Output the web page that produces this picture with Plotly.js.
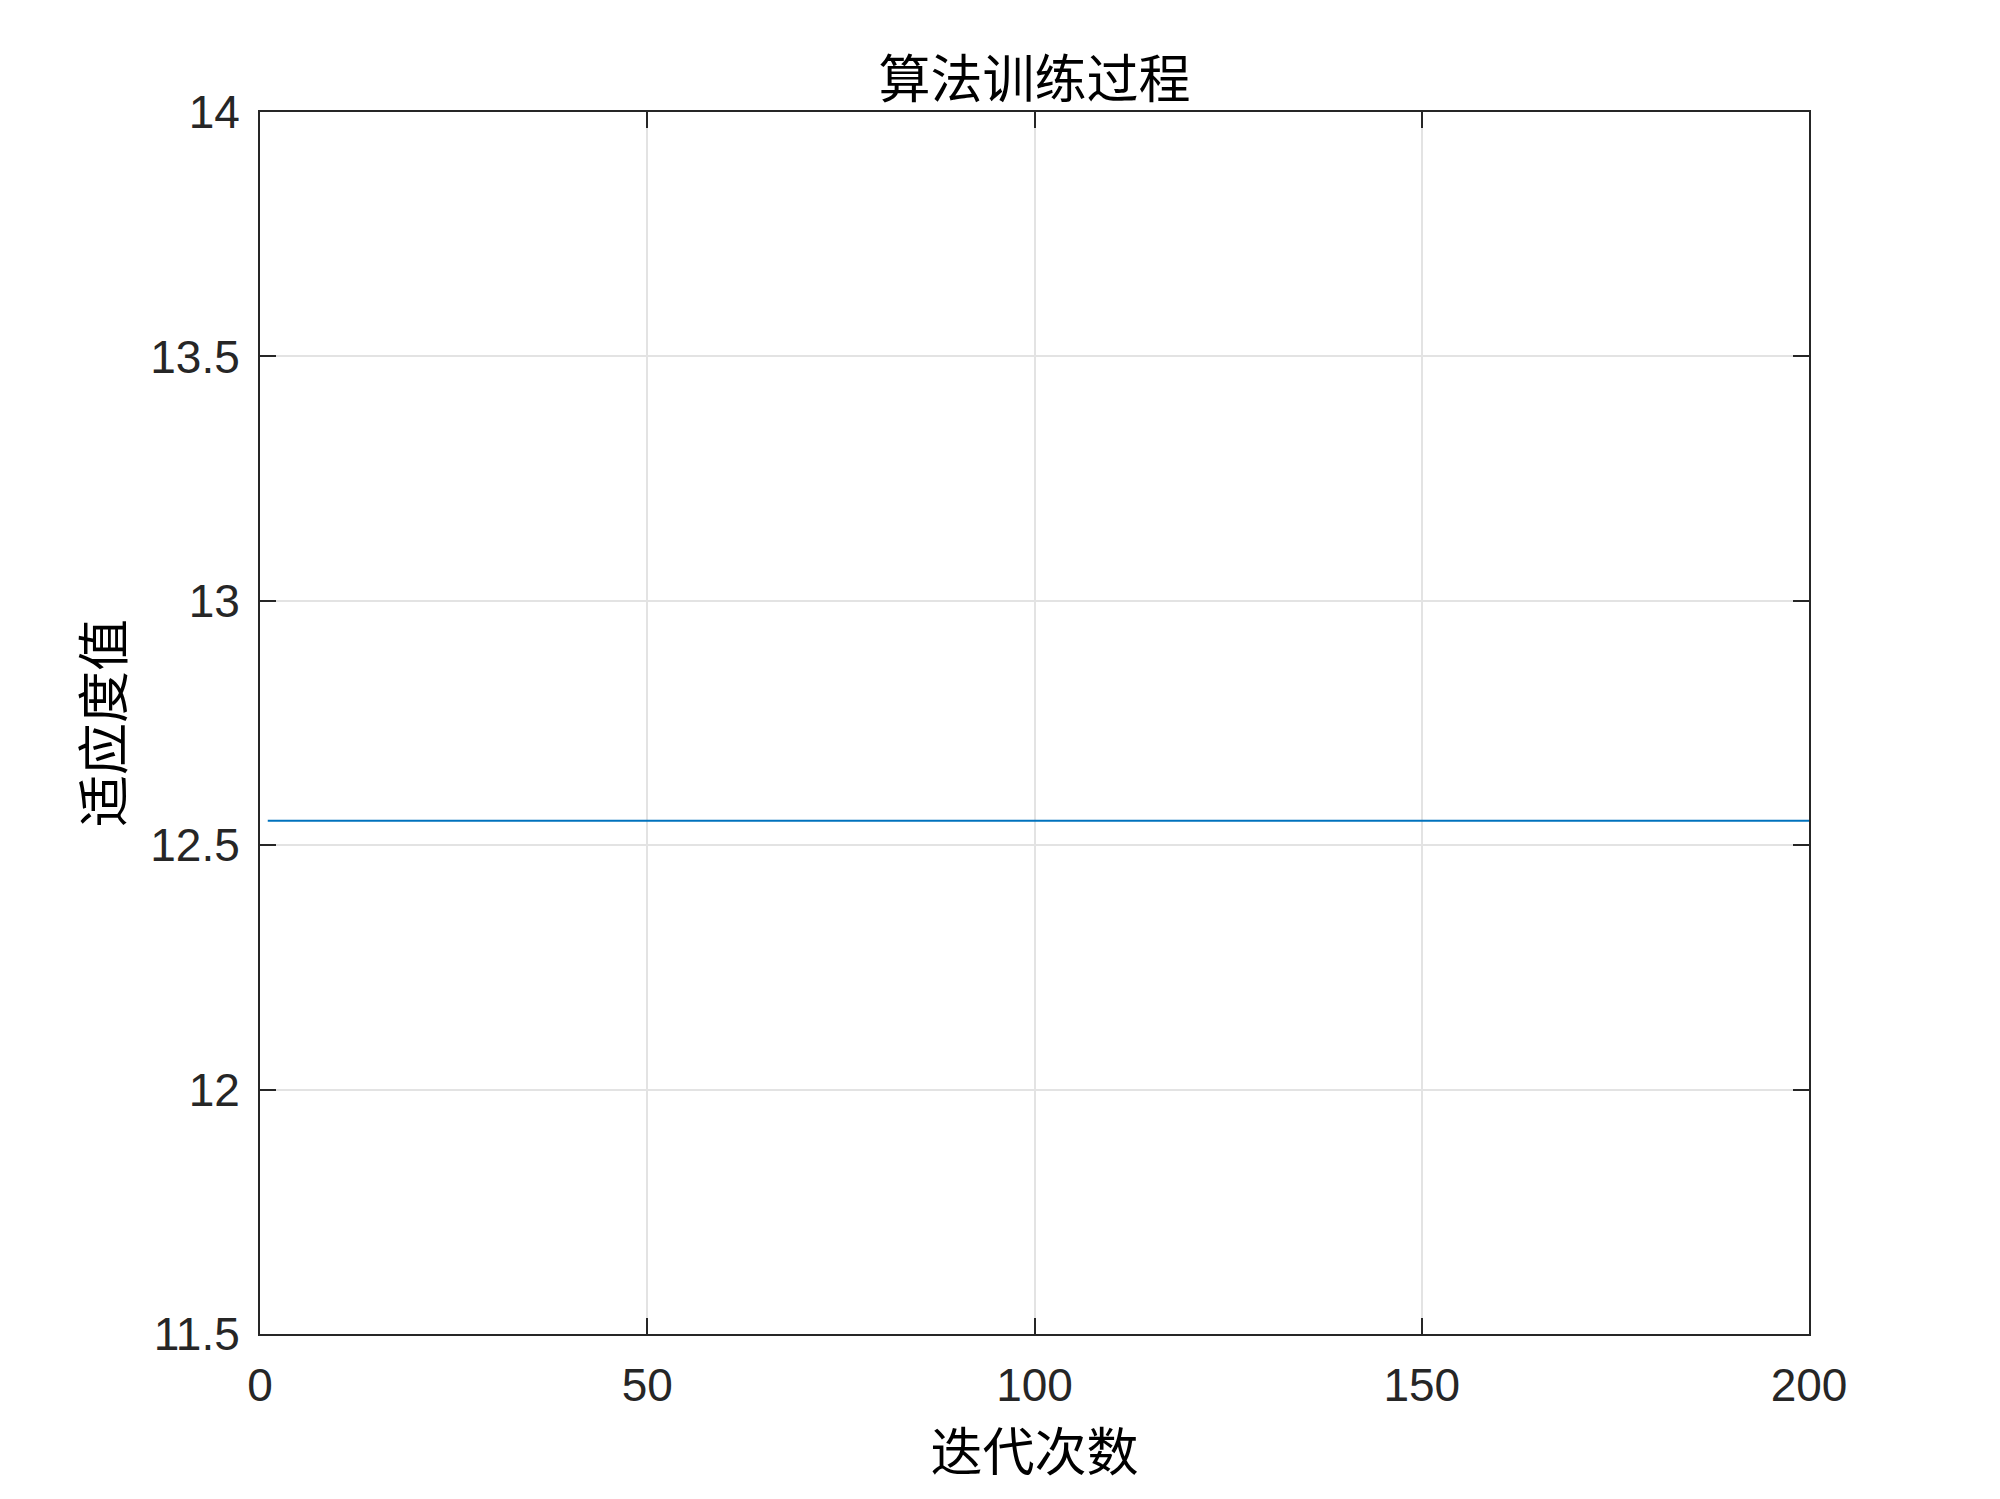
<!DOCTYPE html>
<html>
<head>
<meta charset="utf-8">
<script src="https://cdn.plot.ly/plotly-3.0.1.min.js"></script>
<style>html,body{margin:0;padding:0;background:#fff;}#chart{width:2000px;height:1499px;}</style>
</head>
<body>
<div id="chart"></div>
<script>
// Data
const iterations = [1, 200];
const fitness = [12.55, 12.55];
const xTicks = [0, 50, 100, 150, 200];
const yTicks = [11.5, 12, 12.5, 13, 13.5, 14];
const yTickText = ['11.5', '12', '12.5', '13', '13.5', '14'];
const titleText = '算法训练过程';
const xLabel = '迭代次数';
const yLabel = '适应度值';

const cjk = '"Noto Sans CJK SC", sans-serif';
const num = 'Arial, "Liberation Sans", sans-serif';
const axisColor = '#262626';

const axisCommon = {
  showline: true, linecolor: axisColor, linewidth: 2, mirror: 'ticks',
  ticks: 'inside', ticklen: 16, tickwidth: 2, tickcolor: axisColor,
  showgrid: true, gridcolor: '#e3e3e3', gridwidth: 2,
  zeroline: false, automargin: false,
  tickfont: {family: num, size: 46, color: axisColor}
};

const trace = {
  x: iterations, y: fitness, type: 'scatter', mode: 'lines',
  line: {color: '#0072BD', width: 2}, showlegend: false
};

const layout = {
  width: 2000, height: 1499,
  paper_bgcolor: '#ffffff', plot_bgcolor: '#ffffff',
  margin: {l: 260, r: 191, t: 112, b: 165},
  title: {text: titleText, font: {family: cjk, size: 52, color: '#000'},
          x: 0.5, xref: 'paper', xanchor: 'center', y: 1 - 80/1499, yref: 'container', yanchor: 'middle'},
  xaxis: Object.assign({}, axisCommon, {
    range: [0, 200], tickvals: xTicks, ticktext: xTicks.map(String),
    ticklabelstandoff: 10,
    title: {text: xLabel, font: {family: cjk, size: 52, color: '#000'}, standoff: 6}
  }),
  yaxis: Object.assign({}, axisCommon, {
    range: [11.5, 14], tickvals: yTicks, ticktext: yTickText,
    ticklabelstandoff: 9,
    title: {text: yLabel, font: {family: cjk, size: 52, color: '#000'}, standoff: 10}
  })
};

Plotly.newPlot('chart', [trace], layout, {displayModeBar: false, staticPlot: true});
</script>
</body>
</html>
